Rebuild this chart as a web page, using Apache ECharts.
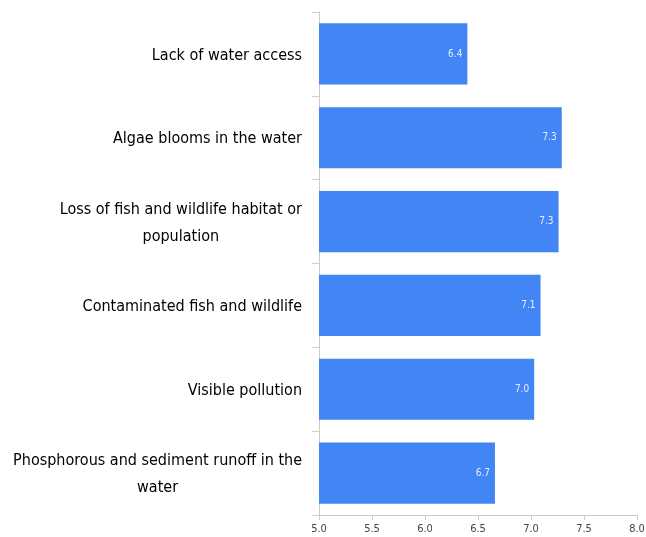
<!DOCTYPE html>
<html>
<head>
<meta charset="utf-8">
<script src="https://cdn.jsdelivr.net/npm/echarts@6/dist/echarts.min.js"></script>
<style>
    html, body { margin: 0; padding: 0; background: #fff; }
    #chart { width: 646px; height: 537px; }
</style>
</head>
<body>
<div id="chart"></div>
<script>
const categories = [
    'Lack of water access',
    'Algae blooms in the water',
    'Loss of fish and wildlife habitat or\npopulation',
    'Contaminated fish and wildlife',
    'Visible pollution',
    'Phosphorous and sediment runoff in the\nwater'
];
const scores = [6.40, 7.29, 7.26, 7.09, 7.03, 6.66];
const xTicks = [5.0, 8.0, 0.5]; // min, max, step

const labelFont = 'DejaVu Sans Condensed, Liberation Sans, sans-serif';

var chart = echarts.init(document.getElementById('chart'));

function wrapLabel(text) {
    // center each line inside a right-aligned block
    return text.split('\n').map(line => '{c|' + line + '}').join('\n');
}

var option = {
    animation: false,
    grid: {
        left: 319,
        right: 9,
        top: 12,
        bottom: 22,
        containLabel: false,
        outerBoundsMode: 'none'
    },
    xAxis: {
        type: 'value',
        min: xTicks[0],
        max: xTicks[1],
        interval: xTicks[2],
        axisLine: { show: true, lineStyle: { color: '#cccccc', width: 1 } },
        axisTick: { show: true, length: 5, lineStyle: { color: '#cccccc' } },
        splitLine: { show: false },
        axisLabel: {
            fontSize: 11,
            color: '#444444',
            margin: 9,
            fontFamily: labelFont,
            formatter: v => v.toFixed(1)
        }
    },
    yAxis: {
        type: 'category',
        inverse: true,
        data: categories,
        axisLine: { show: true, lineStyle: { color: '#cccccc', width: 1 } },
        axisTick: { show: true, length: 7, lineStyle: { color: '#cccccc' } },
        axisLabel: {
            margin: 17,
            color: '#000000',
            fontSize: 16,
            fontFamily: labelFont,
            formatter: wrapLabel,
            rich: {
                c: {
                    align: 'center',
                    fontSize: 16,
                    lineHeight: 27,
                    padding: [3, 0, 0, 0],
                    color: '#000000',
                    fontFamily: labelFont
                }
            }
        }
    },
    series: [
        {
            type: 'bar',
            data: scores,
            barCategoryGap: '27%',
            itemStyle: { color: '#4285f4' },
            label: {
                show: true,
                position: 'insideRight',
                distance: 5,
                color: 'rgba(255,255,255,0.85)',
                fontSize: 10,
                fontFamily: labelFont,
                formatter: p => p.value.toFixed(1)
            }
        }
    ]
};
chart.setOption(option);
</script>
</body>
</html>
